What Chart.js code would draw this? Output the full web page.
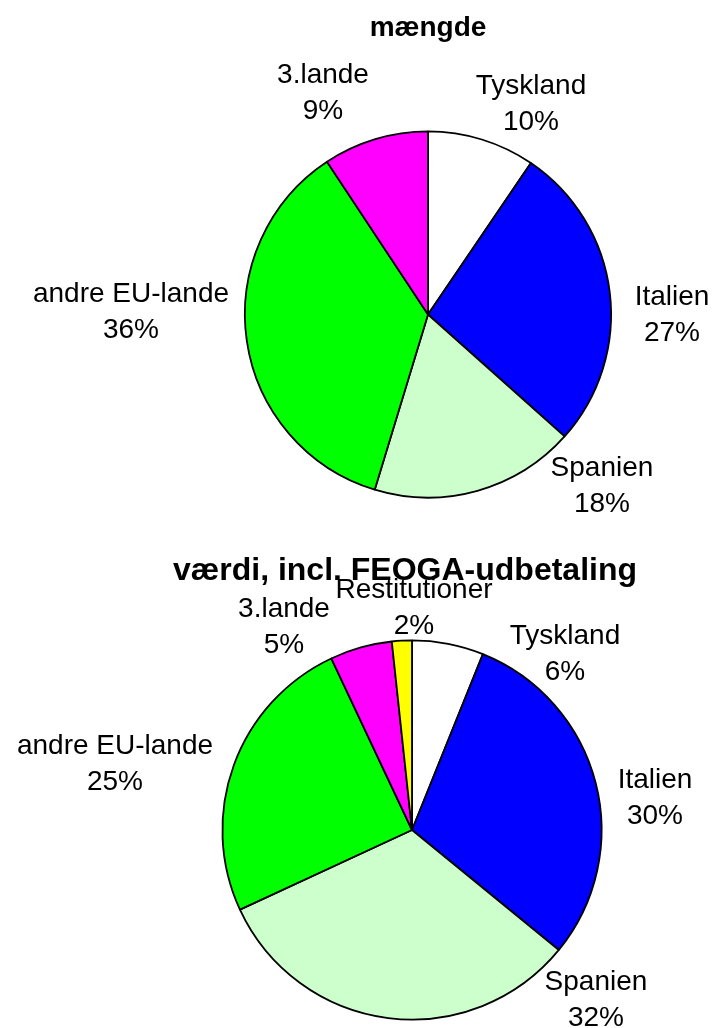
<!DOCTYPE html>
<html>
<head>
<meta charset="utf-8">
<script src="https://cdn.jsdelivr.net/npm/chart.js@4.4.0/dist/chart.umd.min.js"></script>
<style>
  html, body { margin: 0; padding: 0; background: #fff; }
  #wrap { position: relative; width: 727px; height: 1028px; }
  canvas { position: absolute; left: 0; }
</style>
</head>
<body>
<div id="wrap">
  <canvas id="pie-amount" width="727" height="520" style="top:0"></canvas>
  <canvas id="pie-value" width="727" height="508" style="top:520px"></canvas>
</div>
<script>
// ==================== DATA ====================
const amountTitle = 'mængde';
const amountLabels = ['Tyskland', 'Italien', 'Spanien', 'andre EU-lande', '3.lande'];
const amountValues = [9.5, 27.1, 18.1, 36.0, 9.3];
const amountPct = ['10%', '27%', '18%', '36%', '9%'];

const valueTitle = 'værdi, incl. FEOGA-udbetaling';
const valueLabels = ['Tyskland', 'Italien', 'Spanien', 'andre EU-lande', '3.lande', 'Restitutioner'];
const valueValues = [6.1, 29.8, 32.2, 24.9, 5.3, 1.7];
const valuePct = ['6%', '30%', '32%', '25%', '5%', '2%'];

const sliceColors = ['#FFFFFF', '#0000FF', '#CCFFCC', '#00FF00', '#FF00FF', '#FFFF00'];

const FONT = '"Liberation Sans", Arial, Helvetica, sans-serif';

// Label text placement: offset of text centre / first baseline from pie centre
const amountLabelAt = [[103, -221], [244, -10], [174, 161], [-297, -13], [-105, -232]];
const valueLabelAt = [[153, -186], [243, -42], [184, 160], [-297, -76], [-128, -213], [2, -232]];

// draws title + two-line labels (name / percent)
const pieLabelsPlugin = {
  id: 'pieLabels',
  afterDraw(chart, args, opts) {
    const ctx = chart.ctx;
    const arc = chart.getDatasetMeta(0).data[0];
    if (!arc) return;
    const cx = arc.x, cy = arc.y;
    ctx.save();
    ctx.fillStyle = '#000';
    ctx.textAlign = 'center';
    ctx.textBaseline = 'alphabetic';

    ctx.font = 'bold ' + opts.titleSize + 'px ' + FONT;
    ctx.fillText(opts.title, opts.titleX, opts.titleY);

    ctx.font = '28px ' + FONT;
    chart.data.labels.forEach((name, i) => {
      const [dx, dy] = opts.labelAt[i];
      ctx.fillText(name, cx + dx, cy + dy);
      ctx.fillText(opts.pct[i], cx + dx, cy + dy + 36);
    });
    ctx.restore();
  }
};

function makePie(id, labels, values, pct, title, titleSize, titleX, titleY, labelAt, padding) {
  return new Chart(document.getElementById(id), {
    type: 'pie',
    data: {
      labels,
      datasets: [{
        data: values,
        backgroundColor: sliceColors.slice(0, values.length),
        borderColor: '#000',
        borderWidth: 1.8
      }]
    },
    options: {
      responsive: false,
      animation: false,
      devicePixelRatio: 1,
      layout: { padding },
      plugins: {
        legend: { display: false },
        tooltip: { enabled: false },
        pieLabels: { title, titleSize, titleX, titleY, labelAt, pct }
      }
    },
    plugins: [pieLabelsPlugin]
  });
}

makePie('pie-amount', amountLabels, amountValues, amountPct, amountTitle, 28, 428, 36,
  amountLabelAt, { left: 244, right: 115, top: 130.5, bottom: 21.5 });

makePie('pie-value', valueLabels, valueValues, valuePct, valueTitle, 32, 405, 60,
  valueLabelAt, { left: 221.5, right: 124.5, top: 119.5, bottom: 7.5 });
</script>
</body>
</html>
